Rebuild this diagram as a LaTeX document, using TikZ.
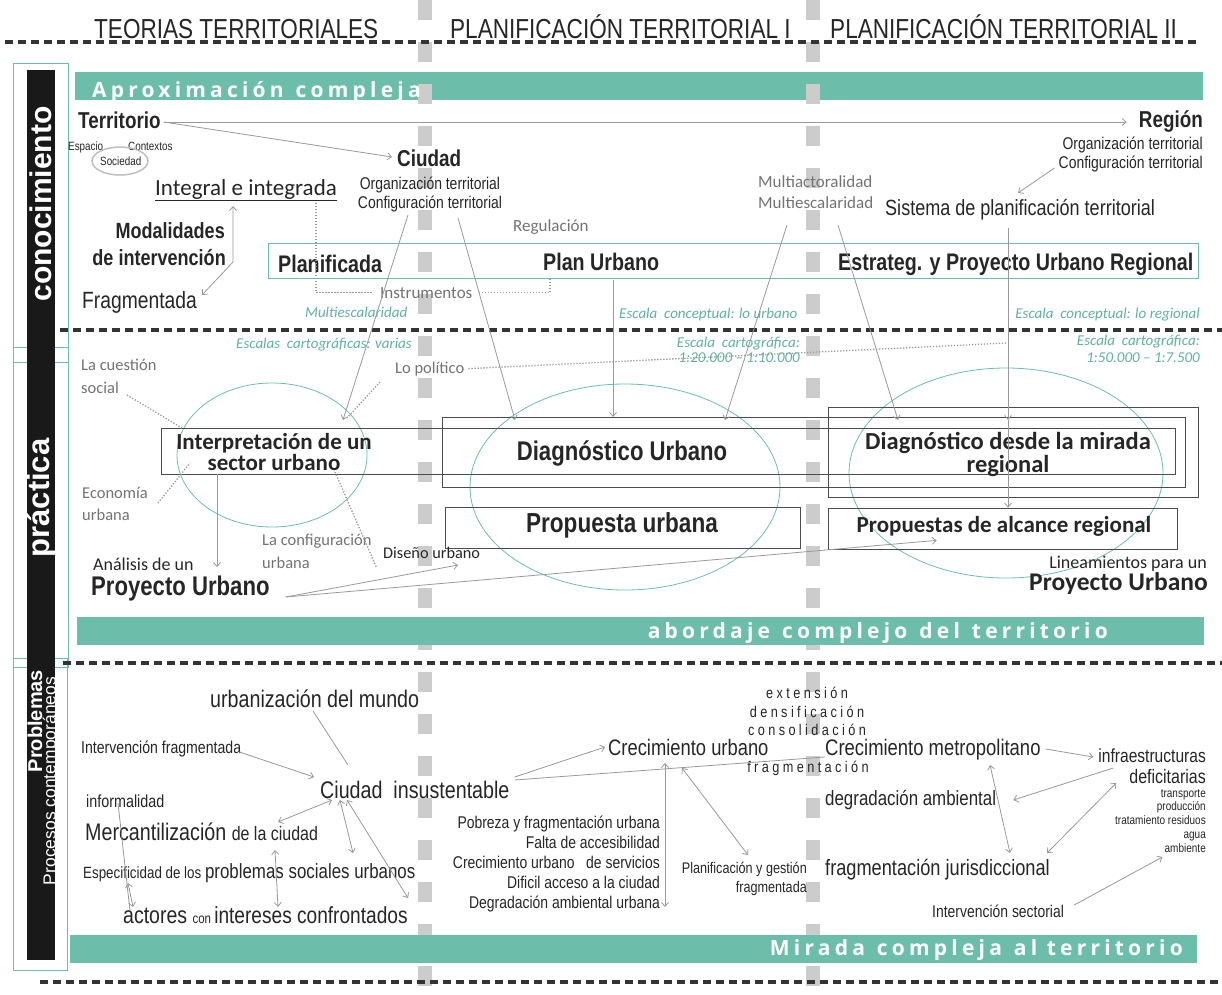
\documentclass[tikz,border=0pt]{standalone}
\usepackage{fontspec}
\setmainfont{Liberation Sans}
\newfontfamily\narrowfont[FakeStretch=0.82]{Liberation Sans}
\newfontfamily\calfont{Carlito}
\newfontfamily\bandfont[LetterSpace=20]{Open Sans}
\newfontfamily\trackfont[FakeStretch=0.82,LetterSpace=22]{Liberation Sans}
\usetikzlibrary{arrows.meta,shapes.geometric}
\definecolor{Teal}{RGB}{108,190,171}
\definecolor{TealText}{RGB}{95,178,158}
\colorlet{Ink}{black!85}
\colorlet{Soft}{black!55}
\colorlet{Wire}{black!40}
\colorlet{Column}{black!20}
\newcommand\fs[2]{\fontsize{#1}{#2}\selectfont}
\newcommand\txtN[1]{\narrowfont\fs{#1}{#1}}
\newcommand\txtNB[1]{\narrowfont\bfseries\fs{#1}{#1}}
\newcommand\txtC[1]{\calfont\fs{#1}{#1}}
\newcommand\txtCB[1]{\calfont\bfseries\fs{#1}{#1}}
\begin{document}
\begin{tikzpicture}[
  x=1pt, y=-1pt,
  every node/.style={inner sep=0pt, text=Ink},
  hdr/.style={font=\txtN{27.5}, anchor=base west, text=black!85},
  wire/.style={draw=Wire, line width=0.8pt},
  arr/.style={wire, -{Straight Barb[length=4pt,width=7pt]}},
  dbl/.style={wire, {Straight Barb[length=4pt,width=7pt]}-{Straight Barb[length=4pt,width=7pt]}},
  dotline/.style={draw=Wire, line width=1.3pt, dash pattern=on 1.3pt off 1.7pt},
  sepline/.style={draw=black!80, line width=3.5pt, dash pattern=on 8pt off 5pt},
  colbar/.style={draw=Column, line width=14pt, dash pattern=on 20pt off 22pt},
  bandfill/.style={fill=Teal},
  bandtext/.style={font=\bandfont\bfseries\fs{21}{21}, text=white},
  tealframe/.style={draw=Teal, line width=0.8pt},
  boxline/.style={draw=black!70, line width=0.7pt},
  ring/.style={ellipse, draw=Teal, line width=0.8pt},
  scalenote/.style={font=\calfont\itshape\fs{15}{15}, text=TealText},
  softnote/.style={font=\txtC{16.5}, text=Soft, anchor=base west}
  ]
\fill[white] (0,0) rectangle (1222,994);
\useasboundingbox (0,0) rectangle (1222,994);

% bands and column marks
\fill[bandfill] (75,72) rectangle (1203,100);
\foreach \x in {425,813}
  \draw[colbar] (\x,0) -- (\x,994);
\fill[bandfill] (77,617) rectangle (1204,645);
\fill[bandfill] (70,935) rectangle (1197,963);
\node[bandtext, anchor=base west] (aprox) at (92,97) {Aproximación\hspace{12pt}compleja};
\node[bandtext, anchor=base east] (abord) at (1108,638) {abordaje\hspace{12pt}complejo\hspace{12pt}del\hspace{12pt}territorio};
\node[bandtext, anchor=base east] (mirada) at (1183,955) {Mirada\hspace{12pt}compleja\hspace{12pt}al territorio};

% left frames and bar
\draw[tealframe] (13,63) rectangle (68,362);
\draw[tealframe] (13,347) rectangle (68,667);
\draw[tealframe] (13,658) rectangle (67,970);
\fill[black!90] (27,70) rectangle (55,960);
\node[rotate=90, text=white, font=\bfseries\fs{30}{30}] (conoc) at (41,204) {conocimiento};
\node[rotate=90, text=white, font=\bfseries\fs{31}{31}] (pract) at (41,498) {práctica};
\node[rotate=90, text=white, font=\bfseries\fs{20}{20}] (probl) at (35,721) {Problemas};
\node[rotate=90, text=white, font=\fs{17.5}{17.5}] (procs) at (51,781) {Procesos contemporáneos};

% separators
\draw[sepline] (5,42) -- (1197,42);
\draw[sepline] (60,330) -- (1222,330);
\draw[sepline] (63,663) -- (1222,663);
\draw[sepline] (40,982) -- (1222,982);

% headers
\node[hdr] (teorias) at (94,38) {TEORIAS TERRITORIALES};
\node[hdr] (planI) at (450,38) {PLANIFICACIÓN TERRITORIAL I};
\node[hdr] (planII) at (830,38) {PLANIFICACIÓN TERRITORIAL II};

% conocimiento
\node[font=\txtNB{23}, anchor=base west] (territorio) at (78,128) {Territorio};
\node[font=\txtN{12}, anchor=base west] (espacio) at (68,150) {Espacio};
\node[font=\txtN{12}, anchor=base west] (contextos) at (128,150) {Contextos};
\node[font=\txtN{12}, anchor=base west] (sociedad) at (100,165) {Sociedad};
\node[ellipse, draw=black!25, line width=1.5pt, minimum width=56, minimum height=28] (sociedadring) at (120,161) {};
\node[font=\txtNB{23}, anchor=base west] (ciudad) at (397,166) {Ciudad};
\node[font=\txtN{17}, anchor=base] (ciudadorg) at (430,189) {Organización territorial};
\node[font=\txtN{17}, anchor=base] (ciudadconf) at (430,208) {Configuración territorial};
\node[font=\txtNB{23}, anchor=base east] (region) at (1203,127) {Región};
\node[font=\txtN{17}, anchor=base east] (regionorg) at (1203,149) {Organización territorial};
\node[font=\txtN{17}, anchor=base east] (regionconf) at (1203,168) {Configuración territorial};
\node[font=\txtC{17}, text=Soft, anchor=base west] (multiact) at (758,187) {Multiactoralidad};
\node[font=\txtC{17}, text=Soft, anchor=base west] (multiesc) at (758,208) {Multiescalaridad};
\node[font=\txtN{22}, anchor=base west] (sistema) at (885,215) {Sistema de planificación territorial};
\node[font=\txtC{23}, anchor=base west] (integral) at (155,195) {Integral e integrada};
\draw[Ink, line width=1pt] ([yshift=-5pt]integral.base west) -- ([yshift=-5pt]integral.base east);
\node[font=\txtNB{22}, anchor=base east] (modal) at (225,238) {Modalidades};
\node[font=\txtNB{22}, anchor=base east] (modalint) at (226,265) {de intervención};
\node[font=\txtN{23.5}, anchor=base west] (fragmentada) at (82,308) {Fragmentada};
\node[font=\txtC{17}, text=Soft, anchor=base west] (regulacion) at (513,231) {Regulación};
\draw[tealframe] (268,243) rectangle (1198,278);
\node[font=\txtNB{24}, anchor=base west] (planificada) at (278,272) {Planificada};
\node[font=\txtNB{24}, anchor=base west] (planurbano) at (543,270) {Plan Urbano};
\node[font=\txtNB{24}, anchor=base west] (estrateg) at (838,270) {Estrateg. y Proyecto Urbano Regional};
\node[font=\txtC{17}, text=Soft, anchor=base west] (instrumentos) at (380,298) {Instrumentos};
\node[scalenote, anchor=base west] (multiteal) at (305,317) {Multiescalaridad};
\node[scalenote, anchor=base west] (concurb) at (619,318) {Escala\ \ conceptual: lo urbano};
\node[scalenote, anchor=base east] (concreg) at (1200,318) {Escala\ \ conceptual: lo regional};

\draw[arr] ([shift={(3,-6)}]territorio.base east) -- ([shift={(-12,-5)}]region.base west);
\draw[arr] ([shift={(3,-6)}]territorio.base east) -- ([shift={(-5,-9)}]ciudad.base west);
\draw[arr] ([shift={(-4,0)}]regionconf.base west) -- ([shift={(133,-22)}]sistema.base west);
\draw[dbl] ([shift={(78,11)}]integral.base west) -- ([shift={(7,-3)}]modalint.base east)
  -- ([shift={(5,-13)}]fragmentada.base east);
\draw[dotline] ([shift={(161,8)}]integral.base west) |- ([xshift=-8pt]instrumentos.west);
\draw[dotline] ([xshift=6pt]instrumentos.east) -| ([shift={(7,9)}]planurbano.base west);

% practica
\node[scalenote, anchor=base east] (cartvar) at (412,348) {Escalas\ \ cartográficas: varias};
\node[scalenote, anchor=base east] (carturb) at (800,347) {Escala\ \ cartográfica:};
\node[scalenote, anchor=base east] (carturbn) at (800,362) {1:20.000 – 1:10.000};
\node[scalenote, anchor=base east] (cartreg) at (1200,345) {Escala\ \ cartográfica:};
\node[scalenote, anchor=base east] (cartregn) at (1200,362) {1:50.000 – 1:7.500};
\node[softnote] (lopolitico) at (395,373) {Lo político};
\node[softnote] (cuestion) at (81,370) {La cuestión};
\node[softnote] (social) at (81,393) {social};
\node[softnote] (economia) at (82,498) {Economía};
\node[softnote] (econurbana) at (82,520) {urbana};
\node[softnote] (configuracion) at (262,545) {La configuración};
\node[softnote] (confurbana) at (262,568) {urbana};

\node[ring, minimum width=190, minimum height=144] (ringinterp) at (272,455) {};
\node[ring, minimum width=310, minimum height=206] (ringurb) at (625,487) {};
\node[ring, minimum width=314, minimum height=210] (ringreg) at (1006,473) {};
\draw[boxline] (161,428) rectangle (1175,474);
\draw[boxline] (442,417) rectangle (1185,487);
\draw[boxline] (828,407) rectangle (1198,497);
\node[boxline, minimum width=355, minimum height=41] (propurb) at (622.5,527.5) {};
\node[boxline, minimum width=349, minimum height=41] (propreg) at (1002.5,528.5) {};

\node[font=\txtCB{23}, anchor=base] (interp) at (274,449) {Interpretación de un};
\node[font=\txtCB{23}, anchor=base] (interpsec) at (274,470) {sector urbano};
\node[font=\txtNB{27}, anchor=base] (diagurb) at (622,460) {Diagnóstico Urbano};
\node[font=\txtCB{24.5}, anchor=base] (diagreg) at (1008,449) {Diagnóstico desde la mirada};
\node[font=\txtCB{24.5}, anchor=base] (diagregl) at (1008,472) {regional};
\node[font=\txtNB{27.5}, anchor=base] (propurbtxt) at (622,532) {Propuesta urbana};
\node[font=\txtCB{23}, anchor=base] (propregtxt) at (1004,532) {Propuestas de alcance regional};
\node[font=\txtC{18}, anchor=base west] (analisis) at (93,570) {Análisis de un};
\node[font=\txtNB{27}, anchor=base west] (proyizq) at (91,595) {Proyecto Urbano};
\node[font=\txtC{16.3}, anchor=base west] (diseno) at (383,558) {Diseño urbano};
\node[font=\txtC{18}, anchor=base east] (lineam) at (1207,568) {Lineamientos para un};
\node[font=\txtCB{25.5}, anchor=base east] (proyder) at (1208,590) {Proyecto Urbano};

\draw[arr] ([shift={(-22,7)}]ciudadconf.base) -- ([shift={(71,-35)}]ringinterp.center);
\draw[arr] ([shift={(28,10)}]ciudadconf.base) -- ([shift={(-110,-67)}]ringurb.center);
\draw[arr] ([shift={(70,10)}]planurbano.base west) -- ([shift={(-12,-70)}]ringurb.center);
\draw[arr] ([shift={(29,17)}]multiesc.base west) -- ([shift={(100,-67)}]ringurb.center);
\draw[arr] ([shift={(80,17)}]multiesc.base west) -- ([shift={(-108,-53)}]ringreg.center);
\draw[arr] ([shift={(123,13)}]sistema.base west) -- ([shift={(2,-53)}]ringreg.center);
\draw[arr] ([shift={(2,-53)}]ringreg.center) -- ([xshift=5.5pt]propreg.north);

\draw[dotline] ([xshift=4pt]lopolitico.east) -- ([shift={(1,-130)}]ringreg.center);
\draw[dotline] ([shift={(-15,9)}]lopolitico.base west) -- ([shift={(75,-37)}]ringinterp.center);
\draw[dotline] ([shift={(8,2)}]social.base east) -- ([shift={(-90,-27)}]ringinterp.center);
\draw[dotline] ([shift={(10,5)}]economia.base east) -- ([shift={(-82,8)}]ringinterp.center);
\draw[dotline] ([shift={(63,17)}]ringinterp.center) -- ([shift={(5,23)}]configuracion.base east);
\draw[arr] ([shift={(-55,19)}]ringinterp.center) -- ([shift={(124,-3)}]analisis.base west);
\draw[arr] ([shift={(16,2)}]proyizq.base east) -- ([shift={(75,7)}]diseno.base west);
\draw[arr] ([shift={(16,2)}]proyizq.base east) -- ([shift={(109,-9)}]propreg.south west);

% problemas
\node[font=\txtN{24}, anchor=base west] (urbmundo) at (210,707) {urbanización del mundo};
\node[font=\txtN{17.2}, anchor=base west] (intfrag) at (81,753) {Intervención fragmentada};
\node[font=\txtN{24}, anchor=base west] (ciudins) at (320,798) {Ciudad\ \ insustentable};
\node[font=\txtN{17.5}, anchor=base west] (informal) at (86,807) {informalidad};
\node[anchor=base west] (mercant) at (85,840) {\txtN{24}Mercantilización \txtN{19.5}de la ciudad};
\node[anchor=base west] (especif) at (83,878) {\txtN{16.3}Especificidad de los \txtN{20.6}problemas sociales urbanos};
\node[anchor=base west] (actores) at (123,923) {\txtN{23.8}actores \txtN{14}con \txtN{23.3}intereses confrontados};
\node[font=\txtN{22.4}, anchor=base west] (crecurb) at (608,755) {Crecimiento urbano};
\node[font=\txtN{17}, anchor=base east] (pobreza) at (660,828) {Pobreza y fragmentación urbana};
\node[font=\txtN{17}, anchor=base east] (falta) at (660,848) {Falta de accesibilidad};
\node[font=\txtN{17}, anchor=base east] (crecserv) at (660,868) {Crecimiento urbano\ \ \ de servicios};
\node[font=\txtN{17}, anchor=base east] (dificil) at (660,888) {Dificil acceso a la ciudad};
\node[font=\txtN{17}, anchor=base east] (degurb) at (660,908) {Degradación ambiental urbana};
\node[font=\txtN{15.4}, anchor=base east] (planges) at (807,873) {Planificación y gestión};
\node[font=\txtN{15.4}, anchor=base east] (plangesf) at (807,892) {fragmentada};
\node[font=\trackfont\fs{15.5}{15.5}, anchor=base] (extension) at (807,698) {extensión};
\node[font=\trackfont\fs{15.5}{15.5}, anchor=base] (densif) at (807,717) {densificación};
\node[font=\trackfont\fs{15.5}{15.5}, anchor=base] (consol) at (807,735) {consolidación};
\node[font=\trackfont\fs{15.5}{15.5}, anchor=base] (fragtrack) at (808,772) {fragmentación};
\node[font=\txtN{22.5}, anchor=base west] (crecmet) at (825,755) {Crecimiento metropolitano};
\node[font=\txtN{19}, anchor=base east] (infra) at (1206,762) {infraestructuras};
\node[font=\txtN{19.5}, anchor=base east] (defic) at (1206,783) {deficitarias};
\node[font=\txtN{12.2}, anchor=base east] (transporte) at (1206,797) {transporte};
\node[font=\txtN{12.2}, anchor=base east] (produccion) at (1206,810) {producción};
\node[font=\txtN{12.2}, anchor=base east] (residuos) at (1206,824) {tratamiento residuos};
\node[font=\txtN{12.2}, anchor=base east] (agua) at (1206,838) {agua};
\node[font=\txtN{12.2}, anchor=base east] (ambiente) at (1206,852) {ambiente};
\node[font=\txtN{20.6}, anchor=base west] (degamb) at (825,805) {degradación ambiental};
\node[font=\txtN{22.2}, anchor=base west] (fragjur) at (825,875) {fragmentación jurisdiccional};
\node[font=\txtN{17}, anchor=base west] (intsect) at (932,917) {Intervención sectorial};

\draw[wire] ([shift={(103,4)}]urbmundo.base west) -- ([shift={(28,-33)}]ciudins.base west);
\draw[arr] ([shift={(-2,-1)}]intfrag.base east) -- ([shift={(-6,-21)}]ciudins.base west);
\draw[dbl] ([shift={(12,2)}]ciudins.base west) -- ([shift={(193,-18)}]mercant.base west);
\draw[dbl] ([shift={(20,2)}]ciudins.base west) -- ([shift={(270,-25)}]especif.base west);
\draw[dbl] ([shift={(27,2)}]ciudins.base west) -- ([shift={(285,-25)}]actores.base west);
\draw[wire] ([shift={(32,-4)}]informal.base west) -- ([shift={(7,-12)}]actores.base west);
\draw[dbl] ([shift={(45,5)}]especif.base west) -- ([shift={(10,-16)}]actores.base west);
\draw[dbl] ([shift={(190,10)}]mercant.base west) -- ([shift={(155,-16)}]actores.base west);
\draw[arr] ([shift={(5,-21)}]ciudins.base east) -- ([shift={(-3,-8)}]crecurb.base west);
\draw[wire] ([shift={(5,-18)}]ciudins.base east) -- ([shift={(0,2)}]crecmet.base west);
\draw[dbl] ([shift={(57,8)}]crecurb.base west) -- ([shift={(5,-1)}]degurb.base east);
\draw[dbl] ([shift={(74,13)}]crecurb.base west) -- ([shift={(-59,-18)}]planges.base east);
\draw[arr] ([shift={(5,-6)}]crecmet.base east) -- ([shift={(-5,-5)}]infra.base west);
\draw[arr] ([shift={(15,6)}]infra.base west) -- ([shift={(17,-5)}]degamb.base east);
\draw[dbl] ([shift={(165,10)}]crecmet.base west) -- ([shift={(185,-22)}]fragjur.base west);
\draw[dbl] ([shift={(-13,0)}]defic.base west) -- ([shift={(222,-22)}]fragjur.base west);
\draw[arr] ([shift={(10,-12)}]intsect.base east) -- ([shift={(-2,5)}]ambiente.base west);
\end{tikzpicture}
\end{document}
